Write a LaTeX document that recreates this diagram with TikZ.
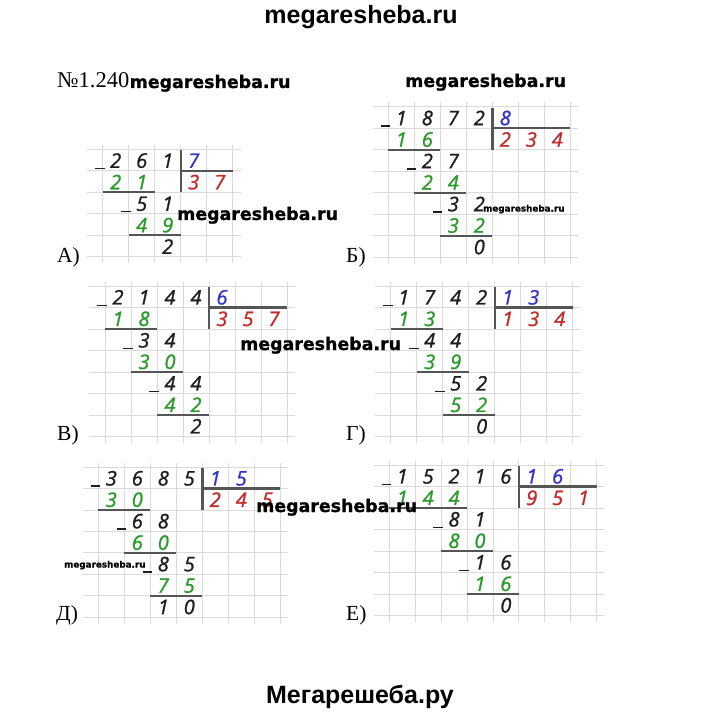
\documentclass[tikz,border=0pt]{standalone}
\usepackage{fontspec}
\setmainfont{Liberation Serif}
\newfontfamily\digfont{Open Sans}[ItalicFeatures={FakeBold=1.2}]
\newfontfamily\wmfont{DejaVu Sans}[BoldFeatures={FakeBold=1}]
\newfontfamily\headfont{Liberation Sans}
\definecolor{dk}{HTML}{1E1E1E}
\definecolor{gr}{HTML}{2A9A2A}
\definecolor{bl}{HTML}{3434C8}
\definecolor{rd}{HTML}{C42A2A}
\definecolor{gridgray}{HTML}{DADADA}
\definecolor{bargray}{HTML}{555555}
\tikzset{
  dg/.style={font=\digfont\itshape\fontsize{20}{20}\selectfont, inner sep=0pt, anchor=base},
  gridln/.style={draw=gridgray, line width=0.8pt},
  barln/.style={draw=bargray, line width=2.4pt},
  ulln/.style={draw=bargray, line width=2.2pt},
  minusln/.style={draw=dk, line width=1.7pt},
  wmbig/.style={font=\wmfont\bfseries\fontsize{17.4}{18}\selectfont, inner sep=0pt, anchor=base west},
  wmsmall/.style={font=\wmfont\bfseries\fontsize{8.8}{9}\selectfont, inner sep=0pt, anchor=base west},
  wmhead/.style={font=\headfont\bfseries\fontsize{25}{25}\selectfont, inner sep=0pt, anchor=base},
  lbl/.style={font=\fontsize{21.5}{21.5}\selectfont, inner sep=0pt, anchor=base west},
}
\newcommand\mkgrid[2]{%
  \foreach \i in {0,...,#1} \draw[gridln] (\i,-0.2) -- (\i,#2+0.3);
  \foreach \j in {0,...,#2} \draw[gridln] (-0.6,\j) -- (#1+0.3,\j);
}
\begin{document}
\begin{tikzpicture}[x=1pt,y=-1pt]
\fill[white] (0,0) rectangle (720,714);
\useasboundingbox (0,0) rectangle (720,714);

% ---------- А ----------
\begin{scope}[shift={(102.7pt,-149.3pt)}, x=26pt, y=-21.5pt]
  \mkgrid{5}{5}
  \foreach \c/\r/\k/\d [count=\n] in {0/0/dk/2,1/0/dk/6,2/0/dk/1,3/0/bl/7,
     0/1/gr/2,1/1/gr/1,3/1/rd/3,4/1/rd/7,
     1/2/dk/5,2/2/dk/1,1/3/gr/4,2/3/gr/9,2/4/dk/2}
     \node[dg, text=\k] (a\n) at (\c+0.5,\r+0.86) {\d};
  \foreach \c/\r in {0/0,1/2} \draw[minusln] (\c-0.3,\r+0.9) -- (\c+0.08,\r+0.9);
  \draw[barln] (3,0.05) -- (3,2);
  \draw[barln] (3,1) -- (5,1);
  \draw[ulln] (0,2) -- (2,2);
  \draw[ulln] (1,4) -- (3,4);
\end{scope}

% ---------- Б ----------
\begin{scope}[shift={(388.3pt,-106.7pt)}, x=26pt, y=-21.5pt]
  \mkgrid{7}{7}
  \foreach \c/\r/\k/\d [count=\n] in {0/0/dk/1,1/0/dk/8,2/0/dk/7,3/0/dk/2,4/0/bl/8,
     0/1/gr/1,1/1/gr/6,4/1/rd/2,5/1/rd/3,6/1/rd/4,
     1/2/dk/2,2/2/dk/7,1/3/gr/2,2/3/gr/4,
     2/4/dk/3,3/4/dk/2,2/5/gr/3,3/5/gr/2,3/6/dk/0}
     \node[dg, text=\k] (b\n) at (\c+0.5,\r+0.86) {\d};
  \foreach \c/\r in {0/0,1/2,2/4} \draw[minusln] (\c-0.3,\r+0.9) -- (\c+0.08,\r+0.9);
  \draw[barln] (4,0.05) -- (4,2);
  \draw[barln] (4,1) -- (7,1);
  \draw[ulln] (0,2) -- (2,2);
  \draw[ulln] (1,4) -- (3,4);
  \draw[ulln] (2,6) -- (4,6);
\end{scope}

% ---------- В ----------
\begin{scope}[shift={(105pt,-286pt)}, x=26pt, y=-21.5pt]
  \mkgrid{7}{7}
  \foreach \c/\r/\k/\d [count=\n] in {0/0/dk/2,1/0/dk/1,2/0/dk/4,3/0/dk/4,4/0/bl/6,
     0/1/gr/1,1/1/gr/8,4/1/rd/3,5/1/rd/5,6/1/rd/7,
     1/2/dk/3,2/2/dk/4,1/3/gr/3,2/3/gr/0,
     2/4/dk/4,3/4/dk/4,2/5/gr/4,3/5/gr/2,3/6/dk/2}
     \node[dg, text=\k] (v\n) at (\c+0.5,\r+0.86) {\d};
  \foreach \c/\r in {0/0,1/2,2/4} \draw[minusln] (\c-0.3,\r+0.9) -- (\c+0.08,\r+0.9);
  \draw[barln] (4,0.05) -- (4,2);
  \draw[barln] (4,1) -- (7,1);
  \draw[ulln] (0,2) -- (2,2);
  \draw[ulln] (1,4) -- (3,4);
  \draw[ulln] (2,6) -- (4,6);
\end{scope}

% ---------- Г ----------
\begin{scope}[shift={(390.7pt,-286pt)}, x=26pt, y=-21.5pt]
  \mkgrid{7}{7}
  \foreach \c/\r/\k/\d [count=\n] in {0/0/dk/1,1/0/dk/7,2/0/dk/4,3/0/dk/2,4/0/bl/1,5/0/bl/3,
     0/1/gr/1,1/1/gr/3,4/1/rd/1,5/1/rd/3,6/1/rd/4,
     1/2/dk/4,2/2/dk/4,1/3/gr/3,2/3/gr/9,
     2/4/dk/5,3/4/dk/2,2/5/gr/5,3/5/gr/2,3/6/dk/0}
     \node[dg, text=\k] (g\n) at (\c+0.5,\r+0.86) {\d};
  \foreach \c/\r in {0/0,1/2,2/4} \draw[minusln] (\c-0.3,\r+0.9) -- (\c+0.08,\r+0.9);
  \draw[barln] (4,0.05) -- (4,2);
  \draw[barln] (4,1) -- (7,1);
  \draw[ulln] (0,2) -- (2,2);
  \draw[ulln] (1,4) -- (3,4);
  \draw[ulln] (2,6) -- (4,6);
\end{scope}

% ---------- Д ----------
\begin{scope}[shift={(98.3pt,-467pt)}, x=26pt, y=-21.45pt]
  \mkgrid{7}{7}
  \foreach \c/\r/\k/\d [count=\n] in {0/0/dk/3,1/0/dk/6,2/0/dk/8,3/0/dk/5,4/0/bl/1,5/0/bl/5,
     0/1/gr/3,1/1/gr/0,4/1/rd/2,5/1/rd/4,6/1/rd/5,
     1/2/dk/6,2/2/dk/8,1/3/gr/6,2/3/gr/0,
     2/4/dk/8,3/4/dk/5,2/5/gr/7,3/5/gr/5,2/6/dk/1,3/6/dk/0}
     \node[dg, text=\k] (d\n) at (\c+0.5,\r+0.86) {\d};
  \foreach \c/\r in {0/0,1/2,2/4} \draw[minusln] (\c-0.3,\r+0.9) -- (\c+0.08,\r+0.9);
  \draw[barln] (4,0.05) -- (4,2);
  \draw[barln] (4,1) -- (7,1);
  \draw[ulln] (0,2) -- (2,2);
  \draw[ulln] (1,4) -- (3,4);
  \draw[ulln] (2,6) -- (4,6);
\end{scope}

% ---------- Е ----------
\begin{scope}[shift={(389.3pt,-465pt)}, x=25.9pt, y=-21.5pt]
  \mkgrid{8}{7}
  \foreach \c/\r/\k/\d [count=\n] in {0/0/dk/1,1/0/dk/5,2/0/dk/2,3/0/dk/1,4/0/dk/6,5/0/bl/1,6/0/bl/6,
     0/1/gr/1,1/1/gr/4,2/1/gr/4,5/1/rd/9,6/1/rd/5,7/1/rd/1,
     2/2/dk/8,3/2/dk/1,2/3/gr/8,3/3/gr/0,
     3/4/dk/1,4/4/dk/6,3/5/gr/1,4/5/gr/6,4/6/dk/0}
     \node[dg, text=\k] (e\n) at (\c+0.5,\r+0.86) {\d};
  \foreach \c/\r in {0/0,2/2,3/4} \draw[minusln] (\c-0.3,\r+0.9) -- (\c+0.08,\r+0.9);
  \draw[barln] (5,0.05) -- (5,2);
  \draw[barln] (5,1) -- (8,1);
  \draw[ulln] (0,2) -- (3,2);
  \draw[ulln] (2,4) -- (4,4);
  \draw[ulln] (3,6) -- (5,6);
\end{scope}

% ---------- labels ----------
\node[lbl] (la) at (57,262) {А)};
\node[lbl] (lb) at (346,262) {Б)};
\node[lbl] (lv) at (57,440) {В)};
\node[lbl] (lg) at (346,440) {Г)};
\node[lbl] (ld) at (56,620) {Д)};
\node[lbl] (le) at (346,620) {Е)};
\node[font=\fontsize{22.5}{22.5}\selectfont, inner sep=0pt, anchor=base west] (num) at (57,88) {№1.240};

% ---------- watermarks ----------
\node[wmhead] (w0) at (361,24) {megaresheba.ru};
\node[wmbig] (w1) at (num.base east) {megaresheba.ru};
\node[wmbig] (w2) at (405,87) {megaresheba.ru};
\node[wmbig] (w3) at (177,220) {megaresheba.ru};
\node[wmsmall] (w4) at (483,211.5) {megaresheba.ru};
\node[wmbig] (w5) at (240,350) {megaresheba.ru};
\node[wmbig] (w6) at (256,512) {megaresheba.ru};
\node[wmsmall] (w7) at (64,567.5) {megaresheba.ru};
\node[wmhead] (w8) at (360,703) {Мегарешеба.ру};
\end{tikzpicture}
\end{document}
